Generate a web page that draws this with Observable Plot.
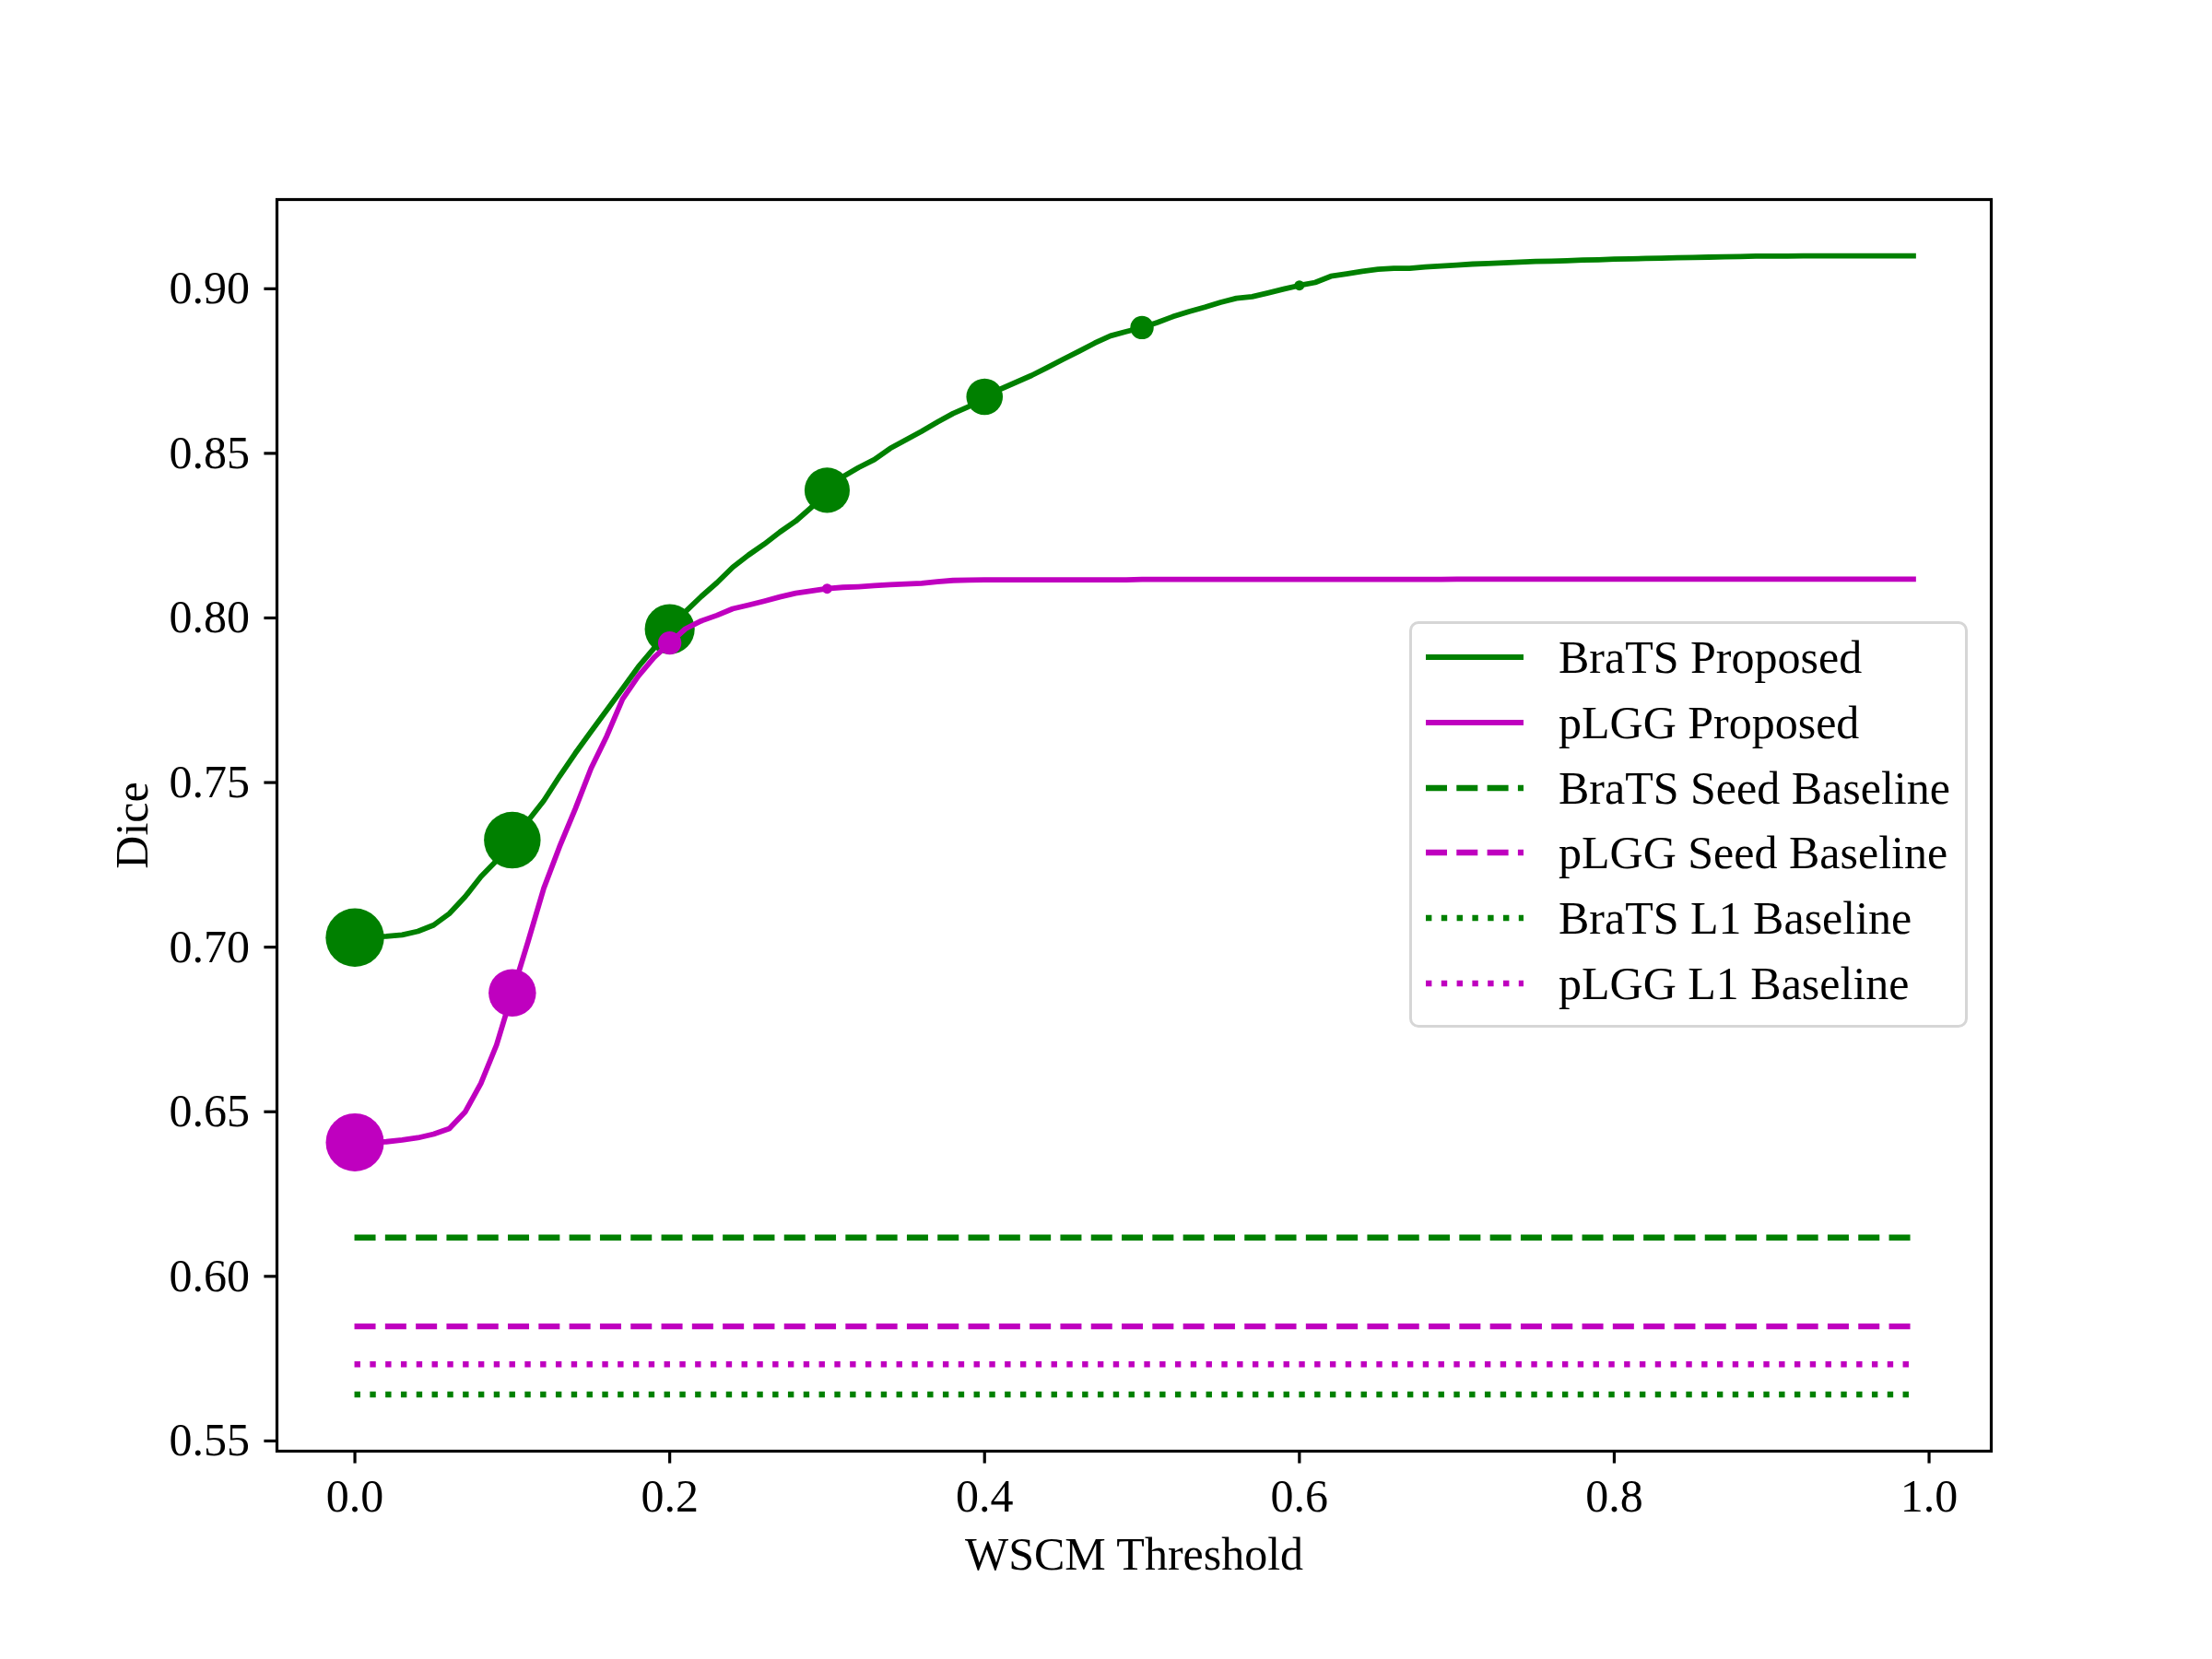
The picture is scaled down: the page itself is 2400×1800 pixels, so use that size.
<!DOCTYPE html>
<html>
<head>
<meta charset="utf-8">
<script src="https://cdn.jsdelivr.net/npm/d3@7"></script>
<script src="https://cdn.jsdelivr.net/npm/@observablehq/plot@0.6"></script>
<style>
html, body { margin: 0; padding: 0; background: #ffffff; }
#wrap { position: relative; width: 2400px; height: 1800px; font-family: 'Liberation Serif', 'Times New Roman', serif; }
#legend { position: absolute; left: 1529px; top: 674px; width: 606px; height: 441px; box-sizing: border-box;
  border: 3px solid #d6d6d6; border-radius: 10px; background: rgba(255,255,255,0.8); padding-top: 0.3px; }
.row { height: 70.9px; display: flex; align-items: center; }
.row svg { margin-left: 15px; flex: none; }
.row span { margin-left: 38px; font-size: 50px; white-space: nowrap; line-height: normal; color: #000; }
</style>
</head>
<body>
<div id="wrap"><div id="chart"></div><div id="legend"></div></div>
<script>
// ---------------- data ----------------
const thresholds = [
  0.00,0.01,0.02,0.03,0.04,0.05,0.06,0.07,0.08,0.09,
  0.10,0.11,0.12,0.13,0.14,0.15,0.16,0.17,0.18,0.19,
  0.20,0.21,0.22,0.23,0.24,0.25,0.26,0.27,0.28,0.29,
  0.30,0.31,0.32,0.33,0.34,0.35,0.36,0.37,0.38,0.39,
  0.40,0.41,0.42,0.43,0.44,0.45,0.46,0.47,0.48,0.49,
  0.50,0.51,0.52,0.53,0.54,0.55,0.56,0.57,0.58,0.59,
  0.60,0.61,0.62,0.63,0.64,0.65,0.66,0.67,0.68,0.69,
  0.70,0.71,0.72,0.73,0.74,0.75,0.76,0.77,0.78,0.79,
  0.80,0.81,0.82,0.83,0.84,0.85,0.86,0.87,0.88,0.89,
  0.90,0.91,0.92,0.93,0.94,0.95,0.96,0.97,0.98,0.99
];

const bratsProposed = [
  0.7029,0.7032,0.7033,0.7037,0.7048,0.7067,0.7102,0.7153,0.7214,0.7263,
  0.7325,0.7384,0.7445,0.7519,0.7589,0.7655,0.7720,0.7785,0.7851,0.7908,
  0.7966,0.8019,0.8065,0.8107,0.8154,0.8191,0.8224,0.8261,0.8294,0.8336,
  0.8388,0.8429,0.8457,0.8481,0.8515,0.8541,0.8567,0.8595,0.8621,0.8642,
  0.8672,0.8695,0.8716,0.8737,0.8761,0.8786,0.8810,0.8835,0.8857,0.8870,
  0.8882,0.8898,0.8916,0.8931,0.8944,0.8959,0.8971,0.8976,0.8987,0.8999,
  0.9010,0.9019,0.9038,0.9045,0.9053,0.9059,0.9062,0.9062,0.9066,0.9069,
  0.9072,0.9075,0.9077,0.9079,0.9081,0.9083,0.9084,0.9085,0.9087,0.9088,
  0.9090,0.9091,0.9092,0.9093,0.9094,0.9095,0.9096,0.9097,0.9098,0.9099,
  0.9099,0.9099,0.9100,0.9100,0.9100,0.9100,0.9100,0.9100,0.9100,0.9100
];

const plggProposed = [
  0.6407,0.6408,0.6409,0.6414,0.6421,0.6432,0.6449,0.6499,0.6586,0.6703,
  0.6861,0.7017,0.7179,0.7305,0.7420,0.7543,0.7641,0.7753,0.7823,0.7880,
  0.7924,0.7967,0.7991,0.8008,0.8028,0.8039,0.8051,0.8064,0.8075,0.8082,
  0.8089,0.8093,0.8095,0.8098,0.8101,0.8103,0.8105,0.8110,0.8114,0.8115,
  0.8116,0.8116,0.8116,0.8116,0.8116,0.8116,0.8116,0.8116,0.8116,0.8116,
  0.8117,0.8117,0.8117,0.8117,0.8117,0.8117,0.8117,0.8117,0.8117,0.8117,
  0.8117,0.8117,0.8117,0.8117,0.8117,0.8117,0.8117,0.8117,0.8117,0.8117,
  0.8118,0.8118,0.8118,0.8118,0.8118,0.8118,0.8118,0.8118,0.8118,0.8118,
  0.8118,0.8118,0.8118,0.8118,0.8118,0.8118,0.8118,0.8118,0.8118,0.8118,
  0.8118,0.8118,0.8118,0.8118,0.8118,0.8118,0.8118,0.8118,0.8118,0.8118
];

// marker thresholds and relative marker weight (area-proportional)
const bratsMarkerThresholds = [0.0, 0.1, 0.2, 0.3, 0.4, 0.5, 0.6, 0.7];
const bratsMarkerWeight     = [1.00, 0.94, 0.73, 0.60, 0.39, 0.16, 0.03, 0.004];
const plggMarkerThresholds  = [0.0, 0.1, 0.2, 0.3];
const plggMarkerWeight      = [0.99, 0.66, 0.16, 0.03];

// constant baselines
const baselineNames  = ["BraTS Seed Baseline", "pLGG Seed Baseline", "BraTS L1 Baseline", "pLGG L1 Baseline"];
const baselineValues = [0.6118, 0.5848, 0.5641, 0.5733];

const xTicks = [0.0, 0.2, 0.4, 0.6, 0.8, 1.0];
const yTicks = [0.55, 0.60, 0.65, 0.70, 0.75, 0.80, 0.85, 0.90];

const legendLabels = ["BraTS Proposed", "pLGG Proposed", "BraTS Seed Baseline", "pLGG Seed Baseline", "BraTS L1 Baseline", "pLGG L1 Baseline"];

// ---------------- styles ----------------
const GREEN = "#008000";
const MAGENTA = "#bf00bf";
const DASH = "23,10.3";
const DOT = "6.4,10.4";
const baselineStyle = {
  "BraTS Seed Baseline": {stroke: GREEN, dash: DASH},
  "pLGG Seed Baseline": {stroke: MAGENTA, dash: DASH},
  "BraTS L1 Baseline": {stroke: GREEN, dash: DOT},
  "pLGG L1 Baseline": {stroke: MAGENTA, dash: DOT}
};

// ---------------- tables ----------------
const bratsRows = thresholds.map((t, i) => ({t, dice: bratsProposed[i]}));
const plggRows = thresholds.map((t, i) => ({t, dice: plggProposed[i]}));
const idx = t => thresholds.findIndex(v => Math.abs(v - t) < 1e-9);
const bratsMarks = bratsMarkerThresholds.map((t, i) => ({t, dice: bratsProposed[idx(t)], w: bratsMarkerWeight[i]}));
const plggMarks = plggMarkerThresholds.map((t, i) => ({t, dice: plggProposed[idx(t)], w: plggMarkerWeight[i]}));
const tMin = d3.min(thresholds), tMax = d3.max(thresholds);
const baselineRows = baselineNames.map((name, i) => ({name, dice: baselineValues[i]}));

const baselineMarks = baselineRows.map(b => Plot.ruleY([b], {
  y: "dice", x1: tMin, x2: tMax,
  stroke: baselineStyle[b.name].stroke, strokeWidth: 6.4,
  strokeDasharray: baselineStyle[b.name].dash, strokeLinecap: "butt"
}));

const chart = Plot.plot({
  width: 2400, height: 1800,
  marginLeft: 300, marginRight: 240, marginTop: 216, marginBottom: 226,
  style: {fontFamily: "'Liberation Serif', 'Times New Roman', serif", fontSize: "50px", background: "#ffffff", color: "#000000"},
  x: {domain: [-0.0495, 1.0395], axis: null},
  y: {domain: [0.5469, 0.9271], axis: null},
  r: {type: "sqrt", domain: [0, 1], range: [0, 31.7]},
  marks: [
    Plot.axisX({ticks: xTicks, tickFormat: d3.format(".1f"), tickSize: 13.6, tickPadding: 16, strokeWidth: 3.2,
      fontSize: 50, label: "WSCM Threshold", labelAnchor: "center", labelOffset: 128, labelArrow: "none"}),
    Plot.axisY({ticks: yTicks, tickFormat: d3.format(".2f"), tickSize: 13.6, tickPadding: 16, strokeWidth: 3.2,
      fontSize: 50, label: "Dice", labelAnchor: "center", labelOffset: 176, labelArrow: "none"}),
    Plot.line(bratsRows, {x: "t", y: "dice", stroke: GREEN, strokeWidth: 5.8, strokeLinecap: "square", strokeLinejoin: "round"}),
    Plot.dot(bratsMarks, {x: "t", y: "dice", r: "w", fill: GREEN}),
    Plot.line(plggRows, {x: "t", y: "dice", stroke: MAGENTA, strokeWidth: 5.8, strokeLinecap: "square", strokeLinejoin: "round"}),
    Plot.dot(plggMarks, {x: "t", y: "dice", r: "w", fill: MAGENTA}),
    ...baselineMarks,
    Plot.frame({stroke: "#000000", strokeWidth: 3.2})
  ]
});
document.getElementById("chart").appendChild(chart);

// ---------------- legend (HTML overlay) ----------------
const legendStyles = [
  {stroke: GREEN, width: 5.8, dash: null},
  {stroke: MAGENTA, width: 5.8, dash: null},
  {stroke: GREEN, width: 6.4, dash: DASH},
  {stroke: MAGENTA, width: 6.4, dash: DASH},
  {stroke: GREEN, width: 6.4, dash: DOT},
  {stroke: MAGENTA, width: 6.4, dash: DOT}
];
const legend = d3.select("#legend");
legendLabels.forEach((label, i) => {
  const s = legendStyles[i];
  const row = legend.append("div").attr("class", "row");
  const svg = row.append("svg").attr("width", 106).attr("height", 20);
  svg.append("line").attr("x1", 0).attr("x2", 106).attr("y1", 10).attr("y2", 10)
    .attr("stroke", s.stroke).attr("stroke-width", s.width)
    .attr("stroke-dasharray", s.dash).attr("stroke-linecap", "butt");
  row.append("span").text(label);
});
</script>
</body>
</html>
